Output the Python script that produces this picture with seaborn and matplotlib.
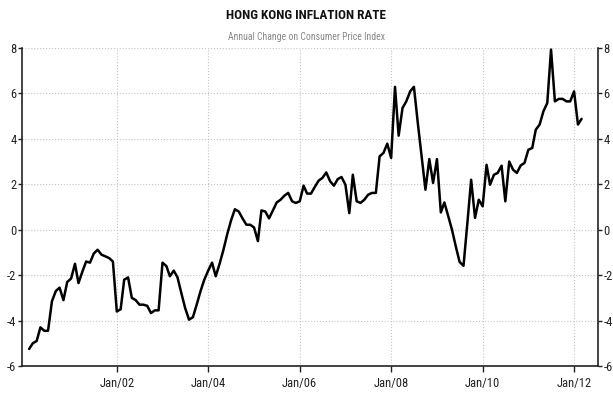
import matplotlib
matplotlib.use('Agg')
import matplotlib.pyplot as plt
import numpy as np
import pandas as pd
import seaborn as sns

# monthly year-on-year CPI change (%), Feb 2000 .. Mar 2012
first_month = '2000-02-01'
cpi_change = [
    -5.25, -5.0, -4.9, -4.3, -4.45, -4.45, -3.15, -2.7, -2.55, -3.1, -2.3,
    -2.15, -1.5, -2.35, -1.85, -1.4, -1.45, -1.05, -0.88, -1.1, -1.17, -1.25, -1.4,
    -3.6, -3.5, -2.2, -2.1, -3.0, -3.1, -3.3, -3.3, -3.35, -3.67, -3.55, -3.55,
    -1.45, -1.6, -2.05, -1.8, -2.1, -2.8, -3.45, -3.96, -3.85, -3.3, -2.7, -2.2,
    -1.8, -1.45, -2.05, -1.5, -0.9, -0.2, 0.4, 0.9, 0.8, 0.5, 0.22, 0.22,
    0.1, -0.5, 0.85, 0.8, 0.5, 0.85, 1.2, 1.32, 1.5, 1.62, 1.25, 1.18,
    1.25, 1.94, 1.59, 1.59, 1.88, 2.16, 2.28, 2.52, 2.13, 1.94, 2.23, 2.32,
    1.98, 0.73, 2.42, 1.25, 1.18, 1.32, 1.54, 1.62, 1.62, 3.23, 3.38, 3.79,
    3.16, 6.29, 4.14, 5.36, 5.65, 6.09, 6.29, 4.7, 3.2, 1.76, 3.11, 2.06,
    3.11, 0.76, 1.2, 0.6, 0.0, -0.75, -1.42, -1.59, 0.3, 2.2, 0.52, 1.32,
    1.03, 2.86, 1.98, 2.42, 2.5, 2.82, 1.25, 3.0, 2.64, 2.5, 2.83, 2.94,
    3.52, 3.6, 4.4, 4.63, 5.21, 5.58, 7.93, 5.65, 5.76, 5.76, 5.65, 5.65,
    6.09, 4.63, 4.88,
]
tick_dates = ['2002-01-01', '2004-01-01', '2006-01-01', '2008-01-01', '2010-01-01', '2012-01-01']
tick_labels = ['Jan/02', 'Jan/04', 'Jan/06', 'Jan/08', 'Jan/10', 'Jan/12']
y_ticks = [-6, -4, -2, 0, 2, 4, 6, 8]

df = pd.DataFrame({
    'month': pd.date_range(first_month, periods=len(cpi_change), freq='MS'),
    'inflation': cpi_change,
})

sns.set_theme(style='white')
plt.rcParams['font.family'] = ['Roboto Condensed', 'Liberation Sans Narrow', 'Liberation Sans', 'DejaVu Sans']

fig = plt.figure(figsize=(6.13, 3.98), dpi=100)
ax = fig.add_axes([0.0359, 0.0804, 0.9396, 0.799])

sns.lineplot(data=df, x='month', y='inflation', color='black', linewidth=1.8, ax=ax)

ax.set_xlim(pd.Timestamp('1999-12-06'), pd.Timestamp('2012-07-10'))
ax.set_ylim(-6, 8)
ax.set_xticks(pd.to_datetime(tick_dates))
ax.set_xticklabels(tick_labels)
ax.set_yticks(y_ticks)
ax.set_yticklabels([str(v) for v in y_ticks])
ax.set_xlabel('')
ax.set_ylabel('')

ax.grid(True, linestyle=':', color='#c4c4c4', linewidth=0.8)
ax.set_axisbelow(True)
for side in ['left', 'right', 'bottom']:
    ax.spines[side].set_color('#222222')
    ax.spines[side].set_linewidth(1.2)
ax.spines['top'].set_visible(False)

ax.tick_params(axis='y', left=True, right=True, labelleft=True, labelright=True,
               length=3, width=1, color='#222222', labelsize=9, pad=1, labelcolor='#222222')
ax.tick_params(axis='x', bottom=True, length=4, width=1, color='#222222',
               labelsize=9, pad=4, labelcolor='#222222')

fig.text(0.5, 0.962, 'HONG KONG INFLATION RATE', ha='center', va='center',
         fontsize=9.5, fontweight='bold', color='#111111')
fig.text(0.5, 0.907, 'Annual Change on Consumer Price Index', ha='center', va='center',
         fontsize=7, color='#888888')

fig.savefig('out.png', dpi=100)
